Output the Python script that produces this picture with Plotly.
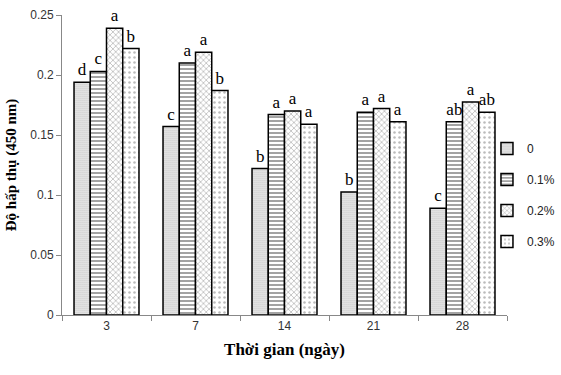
import plotly.graph_objects as go

days = ["3", "7", "14", "21", "28"]
series_names = ["0", "0.1%", "0.2%", "0.3%"]
v0 = [0.194, 0.157, 0.122, 0.1025, 0.089]
v1 = [0.203, 0.210, 0.167, 0.169, 0.161]
v2 = [0.239, 0.219, 0.170, 0.172, 0.1775]
v3 = [0.222, 0.187, 0.159, 0.161, 0.169]
l0 = ["d", "c", "b", "b", "c"]
l1 = ["c", "a", "a", "a", "ab"]
l2 = ["a", "a", "a", "a", "a"]
l3 = ["b", "b", "a", "a", "ab"]
y_ticks = [0, 0.05, 0.1, 0.15, 0.2, 0.25]
y_tick_text = ["0", "0.05", "0.1", "0.15", "0.2", "0.25"]

values = [v0, v1, v2, v3]
letters = [l0, l1, l2, l3]
patterns = [
    dict(shape=".", size=2, solidity=0.6, fgcolor="#777", bgcolor="white"),
    dict(shape="-", size=4, solidity=0.45, fgcolor="#333", bgcolor="white"),
    dict(shape="x", size=4, solidity=0.3, fgcolor="#555", bgcolor="white"),
    dict(shape=".", size=5, solidity=0.2, fgcolor="#777", bgcolor="white"),
]

serif = "Liberation Serif"
sans = "Liberation Sans Narrow, Liberation Sans"

fig = go.Figure()
for name, v, lab, pat in zip(series_names, values, letters, patterns):
    fig.add_trace(go.Bar(
        x=days, y=v, name=name, legendgroup=name,
        marker=dict(color="white", line=dict(color="black", width=1.5), pattern=pat),
        text=lab, textposition="outside", cliponaxis=False,
        textfont=dict(family=serif, size=17, color="black"),
        outsidetextfont=dict(family=serif, size=17, color="black"),
    ))

fig.update_layout(
    width=561, height=375,
    margin=dict(l=62, r=54, t=15, b=60, autoexpand=False),
    paper_bgcolor="white", plot_bgcolor="white",
    barmode="group", bargap=0.27, bargroupgap=0,
    showlegend=True,
    legend=dict(x=0.955, y=0.40, xanchor="left", yanchor="middle",
                font=dict(family=sans, size=12, color="#222"),
                itemwidth=30, tracegroupgap=12, bgcolor="rgba(0,0,0,0)"),
    font=dict(family=sans, size=12, color="#333"),
)
fig.update_xaxes(
    title=dict(text="Thời gian (ngày)", font=dict(family=serif, size=17, color="black", weight="bold"), standoff=10),
    automargin=False,
    showline=True, linecolor="#888", linewidth=1, ticks="outside", ticklen=5, tickcolor="#888",
    tickson="boundaries", showgrid=False,
    tickfont=dict(size=12, color="#333"),
)
fig.update_yaxes(
    title=dict(text="Độ hấp thụ (450 nm)", font=dict(family=serif, size=15, color="black", weight="bold"), standoff=9),
    automargin=False,
    range=[0, 0.25], tickvals=y_ticks, ticktext=y_tick_text,
    showline=True, linecolor="#888", linewidth=1, ticks="outside", ticklen=5, tickcolor="#888",
    showgrid=False, zeroline=False,
    tickfont=dict(size=12, color="#333"),
)

fig.write_html("out.html", config={"displayModeBar": False},
               post_script="document.body.style.margin='0';")
